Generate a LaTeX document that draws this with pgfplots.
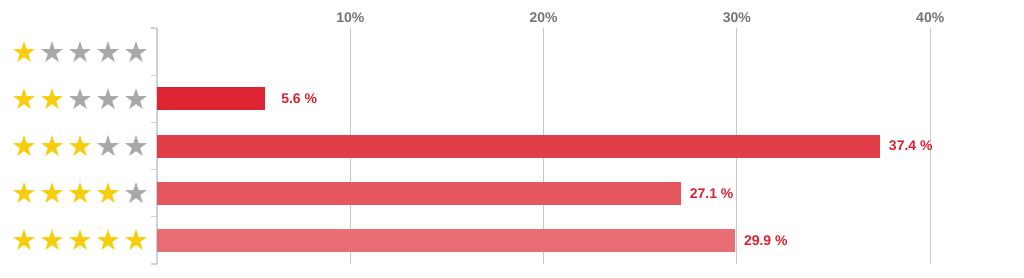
\documentclass[border=0pt]{standalone}
\usepackage{pgfplots}
\pgfplotsset{compat=1.18}
\usepackage{fontspec}
\setmainfont{Liberation Sans}
\newfontfamily\starfont{DejaVu Sans}
\definecolor{gold}{HTML}{F8CE0C}
\definecolor{sgray}{HTML}{A8A8A8}
\definecolor{labred}{HTML}{DE1F2E}
\definecolor{tickgray}{HTML}{737373}
\definecolor{gridgray}{HTML}{C8C8C8}
\definecolor{axblue}{HTML}{C9D3DF}
\definecolor{barA}{HTML}{DC2432}
\definecolor{barB}{HTML}{E03E48}
\definecolor{barC}{HTML}{E5565F}
\definecolor{barD}{HTML}{E96D74}
\newcommand{\st}[1]{\makebox[14pt]{\textcolor{#1}{\starfont\fontsize{14.5pt}{14.5pt}\selectfont ★}}}
\newcommand{\srow}[1]{%
  \ifnum#1>0 \st{gold}\else\st{sgray}\fi
  \ifnum#1>1 \st{gold}\else\st{sgray}\fi
  \ifnum#1>2 \st{gold}\else\st{sgray}\fi
  \ifnum#1>3 \st{gold}\else\st{sgray}\fi
  \ifnum#1>4 \st{gold}\else\st{sgray}\fi}
\begin{document}
\begin{tikzpicture}
\begin{axis}[
  name=ax,
  scale only axis,
  width=433.5pt, height=118pt,
  xmin=0, xmax=44.85,
  ymin=0.5, ymax=5.5,
  y dir=reverse,
  axis x line*=top,
  axis y line*=left,
  x axis line style={draw=none},
  y axis line style={draw=axblue, line width=0.6pt},
  xtick={10,20,30,40},
  xticklabels={10\%,20\%,30\%,40\%},
  xtick style={draw=none},
  xmajorgrids,
  major grid style={draw=gridgray, line width=0.5pt},
  x tick label style={font=\fontsize{7pt}{8pt}\selectfont\bfseries, text=tickgray, inner sep=0pt, yshift=-2pt},
  ytick={1,2,3,4,5},
  yticklabels={\srow{1},\srow{2},\srow{3},\srow{4},\srow{5}},
  ytick style={draw=none},
  minor ytick={0.5,1.5,2.5,3.5,4.5,5.5},
  minor y tick style={draw=axblue, line width=0.6pt},
  minor tick length=3pt,
  tick align=outside,
  y tick label style={inner sep=0pt, anchor=east, xshift=1pt},
  xbar, bar width=11.5pt, bar shift=0pt,
  clip=false,
  /pgf/number format/assume math mode=true,
  nodes near coords={\pgfmathprintnumber[fixed,precision=1,fixed zerofill,assume math mode=true]{\pgfplotspointmeta} \%},
  nodes near coords style={font=\fontsize{7pt}{8pt}\selectfont\bfseries, text=labred, anchor=west, inner sep=0pt, xshift=4.3pt},
]
\addplot[fill=barA, draw=none, nodes near coords style={xshift=3.5pt}] coordinates {(5.6,2)};
\addplot[fill=barB, draw=none] coordinates {(37.4,3)};
\addplot[fill=barC, draw=none] coordinates {(27.1,4)};
\addplot[fill=barD, draw=none] coordinates {(29.9,5)};
\end{axis}
\path ([xshift=-78.5pt,yshift=-7pt]ax.south west) rectangle ([yshift=14pt]ax.north east);
\end{tikzpicture}
\end{document}
